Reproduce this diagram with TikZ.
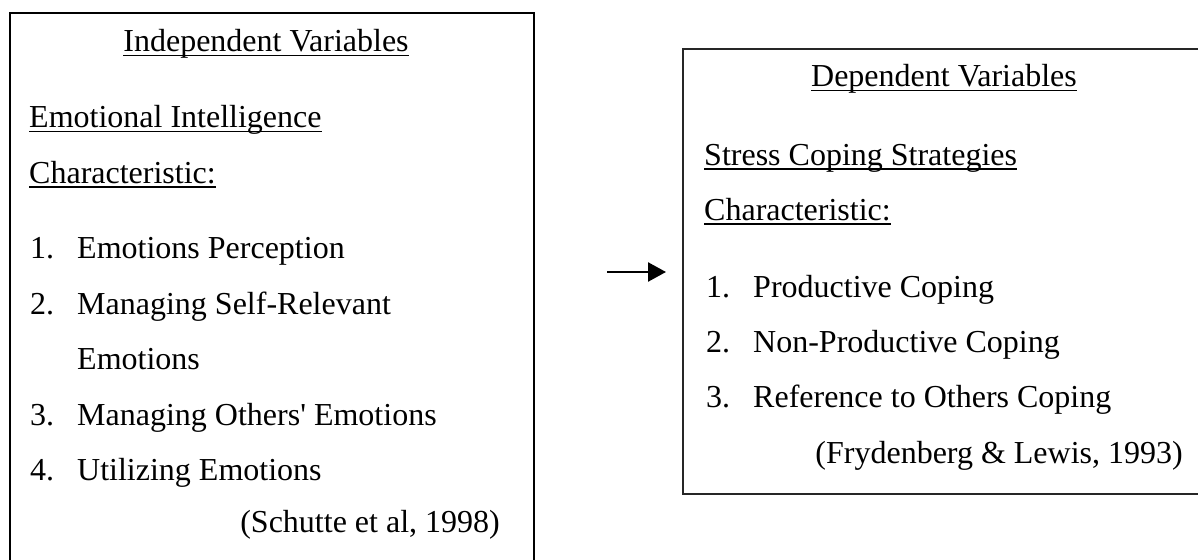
\documentclass[tikz,border=0pt]{standalone}
\usepackage{fontspec}
\setmainfont{Liberation Serif}
\usetikzlibrary{arrows.meta, positioning}

% underline that crosses the descenders, as a word processor draws it
\newsavebox\undlbox
\newcommand{\undl}[1]{\sbox\undlbox{#1}\rlap{\rule[-4.5pt]{\wd\undlbox}{1.7pt}}\usebox\undlbox}

\begin{document}
\begin{tikzpicture}[
  x=1pt, y=-1pt,
  every node/.style={font=\fontsize{32pt}{38pt}\selectfont, inner sep=0pt},
  txt/.style={anchor=base west},
  title/.style={anchor=base},
  cite/.style={anchor=base east},
  frame/.style={draw, line width=2.4pt, anchor=north west},
  arr/.style={-{Triangle[length=18pt, width=19pt]}, line width=2.4pt},
]
\useasboundingbox (0,0) rectangle (1198,559);
\clip (0,0) rectangle (1198,559);

% boxes
\node[frame, minimum width=524pt, minimum height=600pt] (indep) at (9,12) {};
\node[frame, draw=black!85, minimum width=560pt, minimum height=445pt] (dep) at (682,48) {};

% left box
\node[title] (indeptitle) at (266,52) {\undl{Independent Variables}};
\node[txt] (ei) at (29,128) {\undl{Emotional Intelligence}};
\node[txt] (eichar) at (29,183) {\undl{Characteristic:}};
\node[txt] (n1) at (30,258) {1.};
\node[txt] (i1) at (77,258) {Emotions Perception};
\node[txt] (n2) at (30,314) {2.};
\node[txt] (i2) at (77,314) {Managing Self-Relevant};
\node[txt] (i2b) at (77,369) {Emotions};
\node[txt] (n3) at (30,425) {3.};
\node[txt] (i3) at (77,425) {Managing Others\textquotesingle\ Emotions};
\node[txt] (n4) at (30,480) {4.};
\node[txt] (i4) at (77,480) {Utilizing Emotions};
\node[cite] (schutte) at (500,532) {(Schutte et al, 1998)};

% right box
\node[title] (deptitle) at (944,87) {\undl{Dependent Variables}};
\node[txt] (scs) at (704,165) {\undl{Stress Coping Strategies}};
\node[txt] (scschar) at (704,220) {\undl{Characteristic:}};
\node[txt] (m1) at (706,297) {1.};
\node[txt] (j1) at (753,297) {Productive Coping};
\node[txt] (m2) at (706,352) {2.};
\node[txt] (j2) at (753,352) {Non-Productive Coping};
\node[txt] (m3) at (706,407) {3.};
\node[txt] (j3) at (753,407) {Reference to Others Coping};
\node[cite] (fryd) at (1183,463) {(Frydenberg \& Lewis, 1993)};

% arrow
\coordinate (arrstart) at (607,272);
\coordinate (arrend) at (666,272);
\draw[arr] (arrstart) -- (arrend);
\end{tikzpicture}
\end{document}
